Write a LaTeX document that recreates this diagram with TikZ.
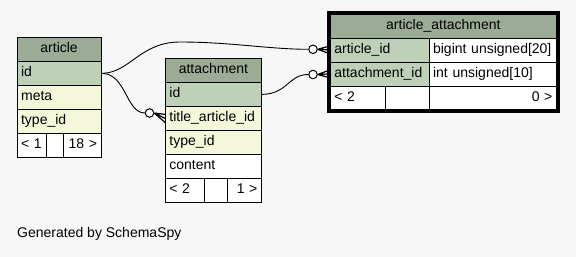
\documentclass[tikz,border=0pt]{standalone}
\usepackage{fontspec}
\setmainfont{Liberation Sans}
\usetikzlibrary{fit}
\definecolor{headcol}{HTML}{9BAB96}
\definecolor{keycol}{HTML}{BED1B8}
\definecolor{idxcol}{HTML}{F4F7DA}
\definecolor{bgcol}{HTML}{F7F7F7}

\begin{document}
\begin{tikzpicture}[x=1pt,y=-1pt,font=\fontsize{14}{16}\selectfont,
  cell/.style={draw,line width=0.8pt,anchor=north west,inner xsep=4pt,inner ysep=0pt,
    minimum height=24pt,text height=10pt,text depth=3pt,align=left},
  headrow/.style={cell,fill=headcol,align=center},
  keyrow/.style={cell,fill=keycol},
  idxrow/.style={cell,fill=idxcol},
  plainrow/.style={cell,fill=white},
  link/.style={line width=0.9pt},
  crowfoot/.style={line width=1.2pt},
  ring/.style={circle,draw,fill=white,inner sep=0pt,minimum size=8.5pt,line width=1pt}]
\fill[bgcol] (0,0) rectangle (576,257);
\useasboundingbox (0,0) rectangle (576,257);

% article
\node[headrow,text width=76pt] (article) at (16.7,37) {article};
\node[keyrow,text width=76pt] (articleid) at (16.7,61) {id};
\node[idxrow,text width=76pt] (articlemeta) at (16.7,85) {meta};
\node[idxrow,text width=76pt] (articletype) at (16.7,109) {type\_id};
\node[plainrow,text width=21pt] (articlefootl) at (16.7,133) {< 1};
\node[plainrow,text width=9.3pt] (articlefootm) at (45.7,133) {};
\node[plainrow,text width=29.7pt,align=right] (articlefootr) at (63,133) {18 >};

% attachment
\node[headrow,text width=88pt] (attach) at (165,58) {attachment};
\node[keyrow,text width=88pt] (attachid) at (165,82) {id};
\node[idxrow,text width=88pt] (attachtitle) at (165,106) {title\_article\_id};
\node[idxrow,text width=88pt] (attachtype) at (165,130) {type\_id};
\node[plainrow,text width=88pt] (attachcontent) at (165,154) {content};
\node[plainrow,text width=31pt] (attachfootl) at (165,178) {< 2};
\node[plainrow,text width=15pt] (attachfootm) at (204,178) {};
\node[plainrow,text width=26pt,align=right] (attachfootr) at (227,178) {1 >};

% article_attachment
\node[headrow,text width=218pt,minimum height=23.5pt] (aa) at (330,14) {article\_attachment};
\node[keyrow,text width=90.7pt] (aaarticle) at (330,37.5) {article\_id};
\node[plainrow,text width=119.3pt] (aaarticletype) at (428.7,37.5) {bigint unsigned[20]};
\node[keyrow,text width=90.7pt] (aaattach) at (330,61.5) {attachment\_id};
\node[plainrow,text width=119.3pt] (aaattachtype) at (428.7,61.5) {int unsigned[10]};
\node[plainrow,text width=47pt,minimum height=23.5pt] (aafootl) at (330,85.5) {< 2};
\node[plainrow,text width=35.7pt,minimum height=23.5pt] (aafootm) at (385,85.5) {};
\node[plainrow,text width=119.3pt,minimum height=23.5pt,align=right] (aafootr) at (428.7,85.5) {0 >};
\node[draw,line width=3pt,inner sep=2pt,fit=(aa)(aafootl)(aafootr)] (aaframe) {};

% relationships
\node[ring] (ring1) at (313,49.3) {};
\node[ring] (ring2) at (149.5,113) {};
\node[ring] (ring3) at (313,74.5) {};
\draw[link] (articleid.east) .. controls (130,73) and (140,42) .. (180,42)
  .. controls (230,42) and (270,49.3) .. (ring1.west);
\draw[crowfoot] (ring1.east) -- ([yshift=4pt]aaarticle.west)
  (ring1.east) -- (aaarticle.west)
  (ring1.east) -- ([yshift=-4pt]aaarticle.west);
\draw[link] (articleid.east) .. controls (126,73) and (126,113) .. (ring2.west);
\draw[crowfoot] (ring2.east) -- ([yshift=4pt]attachtitle.west)
  (ring2.east) -- (attachtitle.west)
  (ring2.east) -- ([yshift=-4pt]attachtitle.west);
\draw[link] (attachid.east) .. controls (288,94) and (288,74.5) .. (ring3.west);
\draw[crowfoot] (ring3.east) -- ([yshift=4pt]aaattach.west)
  (ring3.east) -- (aaattach.west)
  (ring3.east) -- ([yshift=-4pt]aaattach.west);

\node[anchor=base west,inner sep=0pt] (credit) at (17,237.5) {Generated by SchemaSpy};
\end{tikzpicture}
\end{document}
